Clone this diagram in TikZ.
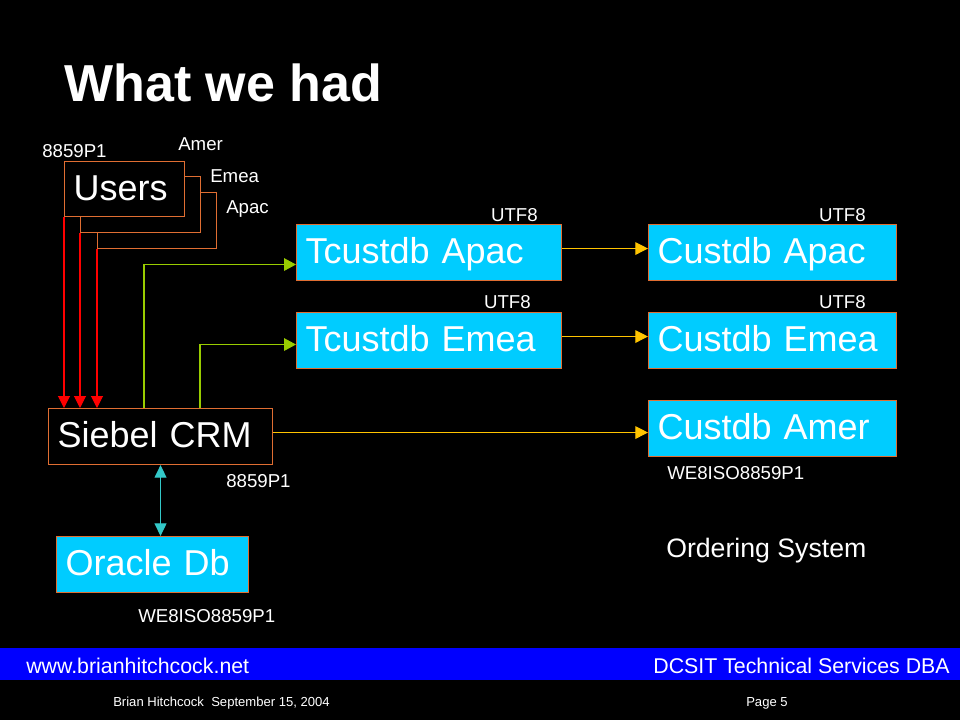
\documentclass[tikz,border=0pt]{standalone}
\usepackage{fontspec}
\setmainfont{Liberation Sans}
\usetikzlibrary{arrows.meta}
\definecolor{boxcyan}{RGB}{0,204,255}
\definecolor{bord}{RGB}{224,110,50}
\definecolor{grn}{RGB}{153,204,0}
\definecolor{yel}{RGB}{255,196,0}
\definecolor{teal2}{RGB}{51,200,200}
\definecolor{band}{RGB}{0,0,255}
\tikzset{
  bx/.style={draw=bord, line width=0.8pt, anchor=north west, inner xsep=6.75pt, inner ysep=0pt,
    align=left, text=white, text height=19.5pt, text depth=3pt, font=\fontsize{27}{30}\selectfont},
  dark/.style={bx, fill=black},
  cyan/.style={bx, fill=boxcyan},
  lbl/.style={inner sep=0pt, text=white, font=\fontsize{14}{16}\selectfont},
  redarr/.style={draw=red, line width=0.8pt, -{Triangle[length=9pt,width=9pt]}},
  grnarr/.style={draw=grn, line width=0.8pt, -{Triangle[length=9pt,width=9.5pt]}},
  yelarr/.style={draw=yel, line width=0.8pt, -{Triangle[length=9.5pt,width=9.5pt]}},
  tealarr/.style={draw=teal2, line width=0.8pt, {Triangle[length=9.5pt,width=9pt]}-{Triangle[length=9.5pt,width=9pt]}},
}
\begin{document}
\begin{tikzpicture}[x=0.75pt,y=-0.75pt]
\useasboundingbox (0,0) rectangle (960,720);
\fill[black] (0,0) rectangle (960,720);
\fill[band] (0,648) rectangle (960,680);

% title
\node[lbl, anchor=base west, font=\fontsize{39}{42}\selectfont\bfseries] (title) at (64,102) {What we had};

% users boxes
\node[dark, minimum width=89.25pt, minimum height=42pt] (apacb) at (97,192) {};
\node[dark, minimum width=90pt, minimum height=42pt] (emeab) at (80,176) {};
\node[dark, text width=76.5pt, minimum height=41.25pt] (users) at (64,161) {Users};

% boxes
\node[cyan, text width=185.25pt, minimum height=42pt] (tapac) at (296,224) {Tcustdb Apac};
\node[cyan, text width=172.5pt, minimum height=42pt] (capac) at (648,224) {Custdb Apac};
\node[cyan, text width=185.25pt, minimum height=42pt] (temea) at (296,312) {Tcustdb Emea};
\node[cyan, text width=172.5pt, minimum height=42pt] (cemea) at (648,312) {Custdb Emea};
\node[cyan, text width=172.5pt, minimum height=42pt] (camer) at (648,400) {Custdb Amer};
\node[dark, text width=154.5pt, minimum height=42pt] (siebel) at (48,408) {Siebel CRM};
\node[cyan, text width=130.5pt, minimum height=42pt] (oracle) at (56,536) {Oracle Db};

% labels
\node[lbl, anchor=base west] (l1) at (42,158) {8859P1};
\node[lbl, anchor=base west] (l2) at (178,151) {Amer};
\node[lbl, anchor=base west] (l3) at (210,183) {Emea};
\node[lbl, anchor=base west] (l4) at (226,214) {Apac};
\node[lbl, anchor=base east] (u1) at (538,222) {UTF8};
\node[lbl, anchor=base east] (u2) at (866,222) {UTF8};
\node[lbl, anchor=base east] (u3) at (531,309) {UTF8};
\node[lbl, anchor=base east] (u4) at (866,309) {UTF8};
\node[lbl, anchor=base west] (l5) at (226,487) {8859P1};
\node[lbl, anchor=base west] (l6) at (667,479) {WE8ISO8859P1};
\node[lbl, anchor=base west, font=\fontsize{20}{22}\selectfont] (l7) at (666,557) {Ordering System};
\node[lbl, anchor=base west] (l8) at (138,622) {WE8ISO8859P1};

% footer
\node[lbl, anchor=base west, font=\fontsize{16}{18}\selectfont] (f1) at (26,673) {www.brianhitchcock.net};
\node[lbl, anchor=base east, font=\fontsize{16}{18}\selectfont] (f2) at (950,673) {DCSIT Technical Services DBA};
\node[lbl, anchor=base west, font=\fontsize{9.8}{11}\selectfont] (f3) at (113,706) {Brian Hitchcock\ \ September 15, 2004};
\node[lbl, anchor=base west, font=\fontsize{9.8}{11}\selectfont] (f4) at (746,706) {Page 5};

% connectors
\draw[redarr] (users.south west) -- (users.south west |- siebel.north);
\draw[redarr] (emeab.south west) -- (emeab.south west |- siebel.north);
\draw[redarr] (apacb.south west) -- (apacb.south west |- siebel.north);
\draw[grnarr] ([xshift=72pt]siebel.north west) |- ([yshift=-9pt]tapac.west);
\draw[grnarr] ([xshift=114pt]siebel.north west) |- ([yshift=-3pt]temea.west);
\draw[yelarr] ([yshift=3pt]tapac.east) -- ([yshift=3pt]capac.west);
\draw[yelarr] ([yshift=3pt]temea.east) -- ([yshift=3pt]cemea.west);
\draw[yelarr] ([yshift=3pt]siebel.east) -- ([yshift=3pt]siebel.east -| camer.west);
\draw[tealarr] (siebel.south) -- (siebel.south |- oracle.north);
\end{tikzpicture}
\end{document}
